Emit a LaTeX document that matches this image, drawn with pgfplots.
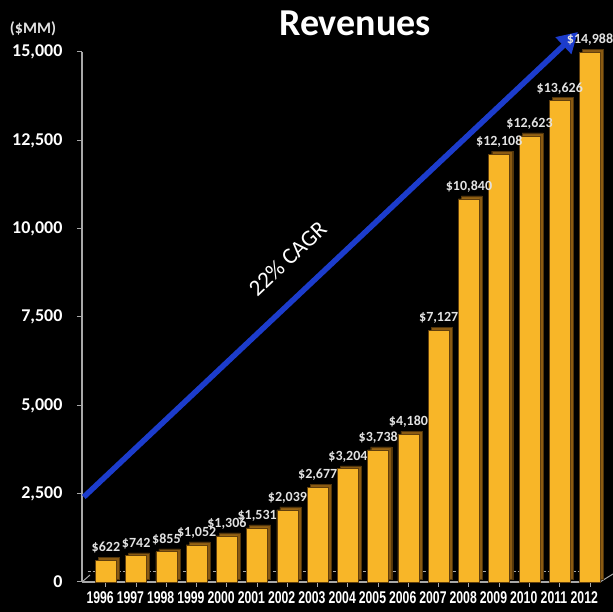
\documentclass[border=0pt]{standalone}
\usepackage{fontspec}
\setmainfont{Carlito}
\newfontfamily\yearfont{Liberation Sans}
\usepackage{pgfplots}
\usepackage{pgfplotstable}
\pgfplotsset{compat=1.18}
\usetikzlibrary{arrows.meta}
\definecolor{barfront}{HTML}{F8B628}
\definecolor{barside}{HTML}{8A5A12}
\definecolor{arrowblue}{HTML}{1C3CCC}
\definecolor{axisgray}{HTML}{A8A8A8}
\definecolor{valgray}{HTML}{E2E2E2}

% revenue in $MM, idx 0 = 1996
\pgfplotstableread{
idx year rev
0  1996 622
1  1997 742
2  1998 855
3  1999 1052
4  2000 1306
5  2001 1531
6  2002 2039
7  2003 2677
8  2004 3204
9  2005 3738
10 2006 4180
11 2007 7127
12 2008 10840
13 2009 12108
14 2010 12623
15 2011 13626
16 2012 14988
}\revtable

\begin{document}
\begin{tikzpicture}
\fill[black] (0,0) rectangle (613pt,612pt);
\useasboundingbox (0,0) rectangle (613pt,612pt);
\begin{axis}[
    at={(82pt,30pt)}, anchor=south west,
    scale only axis, width=518pt, height=530pt,
    xmin=-0.79, xmax=16.33, ymin=0, ymax=15000,
    axis x line*=bottom, axis y line*=left,
    axis line style={axisgray, line width=1.2pt},
    ybar, bar width=21pt,
    ytick={0,2500,...,15000},
    xtick={0,...,16},
    xticklabels={1996,1997,1998,1999,2000,2001,2002,2003,2004,2005,2006,2007,2008,2009,2010,2011,2012},
    tick align=outside, major tick length=5pt,
    tick style={axisgray, line width=1pt},
    scaled y ticks=false,
    /pgf/number format/assume math mode=true,
    /pgf/number format/1000 sep={,},
    yticklabel style={font=\fontsize{18}{18}\selectfont\bfseries, text=white, xshift=-11pt},
    xticklabel style={font=\yearfont\bfseries\fontsize{17}{17}\selectfont, text=white, xscale=0.72, xshift=-8pt, yshift=-1pt},
    clip=false,
]
\draw[axisgray, densely dashed, line width=0.8pt] (axis cs:-0.6,311) -- (axis cs:16.2,311);
\draw[axisgray, line width=1pt] (axis cs:-0.79,0) -- ++(8pt,7pt);
\draw[axisgray, line width=1pt] (axis cs:16.33,0) -- ++(13pt,8pt);
\addplot[fill=barside, draw=barside!60!black, bar shift=3pt, yshift=3pt]
    table[x=idx, y=rev] {\revtable};
\addplot[fill=barfront, draw=barside!70!black, line width=0.6pt, bar shift=0pt,
    nodes near coords={\$\pgfmathprintnumber{\pgfplotspointmeta}},
    every node near coord/.append style={font=\fontsize{14}{14}\selectfont\bfseries, text=valgray, yshift=3pt}]
    table[x=idx, y=rev] {\revtable};
\draw[arrowblue, line width=5.5pt, -{Triangle[length=20pt,width=22pt]}]
    (axis cs:-0.73,2406) -- (axis cs:15.6,15566);
\node[rotate=43.3, text=white, font=\fontsize{23}{23}\selectfont] at (axis cs:6.0,9150) {22\% CAGR};
\end{axis}
\node[text=white, font=\fontsize{38}{38}\selectfont\bfseries] at (355pt,589pt) {Revenues};
\node[text=valgray, font=\fontsize{16}{16}\selectfont\bfseries] at (33pt,583pt) {(\$MM)};
\end{tikzpicture}
\end{document}
